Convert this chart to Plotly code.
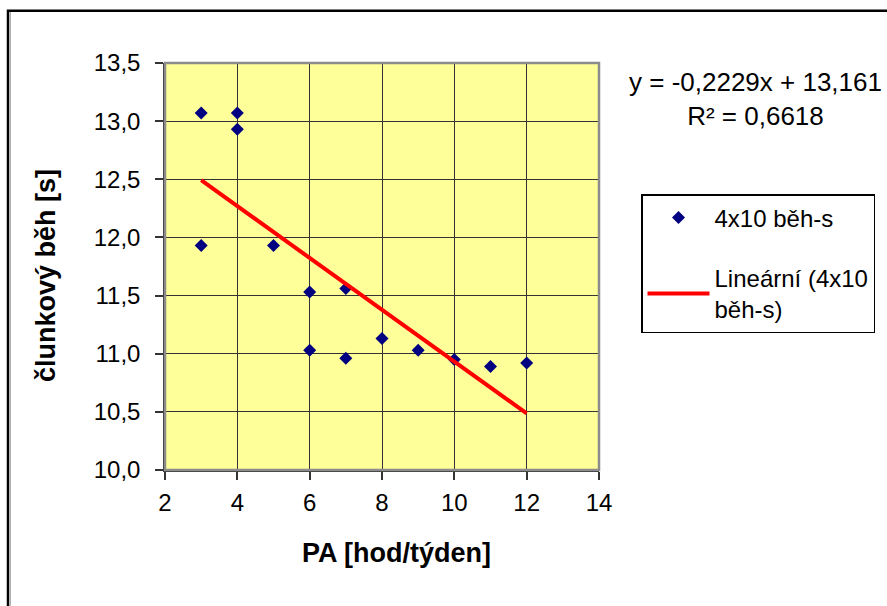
import plotly.graph_objects as go

# data
pa_hours = [3, 3, 4, 4, 5, 6, 6, 7, 7, 8, 9, 10, 11, 12]
shuttle_run = [13.07, 11.93, 13.07, 12.93, 11.93, 11.53, 11.03, 11.56, 10.96, 11.13, 11.03, 10.95, 10.89, 10.92]
trend_slope = -0.2229
trend_intercept = 13.161
r_squared = 0.6618
x_ticks = [2, 4, 6, 8, 10, 12, 14]
y_ticks = [10.0, 10.5, 11.0, 11.5, 12.0, 12.5, 13.0, 13.5]
y_tick_labels = ["10,0", "10,5", "11,0", "11,5", "12,0", "12,5", "13,0", "13,5"]
equation_text = "y = -0,2229x + 13,161<br>R² = 0,6618"

W, H = 887, 606
L, R, T, B = 165, 288, 63, 136
pw, ph = W - L - R, H - T - B

def px(xp):
    return (xp - L) / pw

def py(yp):
    return (H - B - yp) / ph

FONT = "Liberation Sans, Arial, sans-serif"

trend_x = [min(pa_hours), max(pa_hours)]
trend_y = [trend_intercept + trend_slope * v for v in trend_x]

fig = go.Figure()
fig.add_trace(go.Scatter(
    x=pa_hours, y=shuttle_run, mode="markers", name="4x10 běh-s",
    marker=dict(symbol="diamond", size=10, color="#000080"),
    legendgroup="a",
))
fig.add_trace(go.Scatter(
    x=trend_x, y=trend_y, mode="lines", name="Lineární (4x10<br>běh-s)",
    line=dict(color="#FF0000", width=4),
    legendgroup="b",
))

axis_common = dict(
    showgrid=True, gridcolor="#333333", gridwidth=1,
    showline=True, linecolor="#333333", linewidth=1.5,
    ticks="outside", ticklen=8, tickcolor="#333333", tickwidth=1.5,
    tickfont=dict(family=FONT, size=24, color="black"),
    zeroline=False, mirror=False,
)

fig.update_xaxes(range=[2, 14], tickvals=x_ticks, ticklabelstandoff=2, **axis_common)
fig.update_yaxes(range=[10, 13.5], tickvals=y_ticks, ticktext=y_tick_labels,
                 ticklabelstandoff=10, **axis_common)

shapes = [
    # plot area border (gray, top/right)
    dict(type="rect", xref="paper", yref="paper", x0=0, y0=0, x1=1, y1=1,
         line=dict(color="#8c8c8c", width=2.5), layer="above"),
    # chart outer border
    dict(type="rect", xref="paper", yref="paper", x0=px(8), y0=py(10.7), x1=px(905), y1=py(625),
         line=dict(color="black", width=2.5), layer="above"),
    dict(type="line", xref="paper", yref="paper", x0=px(10.3), y0=py(12), x1=px(10.3), y1=py(625),
         line=dict(color="#9a9a9a", width=1), layer="above"),
]

annotations = [
    dict(xref="paper", yref="paper", x=px(755), y=py(99), xanchor="center", yanchor="middle",
         text=equation_text,
         showarrow=False, align="center", font=dict(family=FONT, size=26, color="black")),
    dict(xref="paper", yref="paper", x=px(396), y=py(553), xanchor="center", yanchor="middle",
         text="<b>PA [hod/týden]</b>", showarrow=False,
         font=dict(family=FONT, size=27, color="black")),
    dict(xref="paper", yref="paper", x=px(46), y=py(276), xanchor="center", yanchor="middle",
         text="<b>člunkový běh [s]</b>", showarrow=False, textangle=-90,
         font=dict(family=FONT, size=27, color="black")),
]

fig.update_layout(
    width=W, height=H,
    margin=dict(l=L, r=R, t=T, b=B, autoexpand=False),
    paper_bgcolor="white", plot_bgcolor="#FFFF99",
    showlegend=True,
    legend=dict(x=px(641), y=py(194), xanchor="left", yanchor="top",
                bordercolor="black", borderwidth=1.5, bgcolor="white",
                font=dict(family=FONT, size=24, color="black"),
                tracegroupgap=26, itemwidth=62),
    shapes=shapes,
    annotations=annotations,
)

fig.write_html("out.html")
